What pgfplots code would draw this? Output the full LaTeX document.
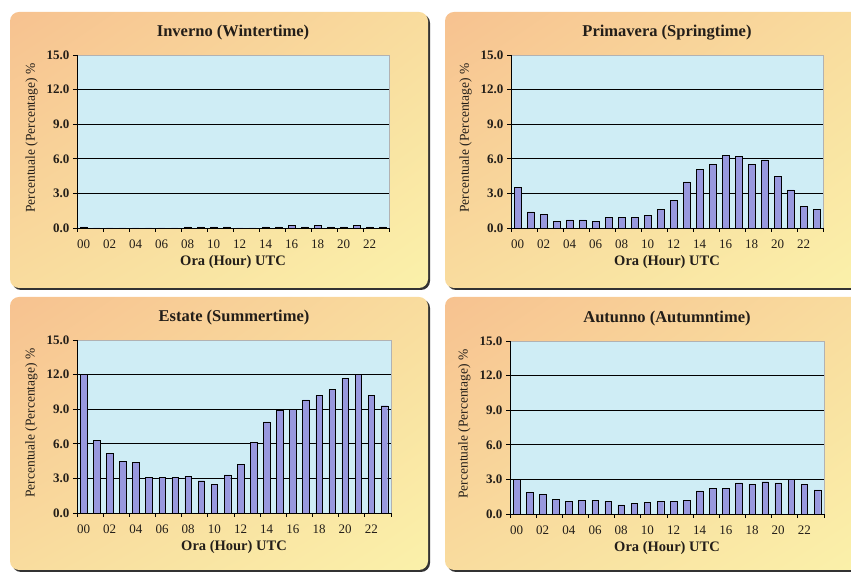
\documentclass[border=0pt]{standalone}
\usepackage{fontspec}
\setmainfont{Liberation Serif}
\usepackage{pgfplots}
\usepackage{pgfplotstable}
\pgfplotsset{compat=1.18}
\usetikzlibrary{shadings}

\definecolor{panelA}{RGB}{247,194,144}
\definecolor{panelB}{RGB}{249,220,158}
\definecolor{panelC}{RGB}{250,241,170}
\definecolor{plotbg}{RGB}{207,237,245}
\definecolor{barfill}{RGB}{152,152,222}
\definecolor{baredge}{RGB}{35,35,70}
\definecolor{txt}{RGB}{35,30,25}

% hourly share of events (%), per season
\pgfplotstableread{
h  win  spr  sum   aut
0  0.1  3.5  12.0  3.0
1  0.0  1.4  6.3   1.9
2  0.0  1.2  5.2   1.7
3  0.0  0.6  4.5   1.3
4  0.0  0.7  4.4   1.1
5  0.0  0.7  3.1   1.2
6  0.0  0.6  3.1   1.2
7  0.0  0.9  3.1   1.1
8  0.1  0.9  3.2   0.8
9  0.1  0.9  2.8   0.9
10 0.1  1.1  2.5   1.0
11 0.1  1.6  3.3   1.1
12 0.0  2.4  4.2   1.1
13 0.0  4.0  6.1   1.2
14 0.1  5.1  7.9   2.0
15 0.1  5.5  8.9   2.2
16 0.2  6.3  9.0   2.2
17 0.1  6.2  9.8   2.7
18 0.2  5.5  10.2  2.6
19 0.1  5.9  10.7  2.8
20 0.1  4.5  11.7  2.7
21 0.2  3.3  12.0  3.0
22 0.1  1.9  10.2  2.6
23 0.1  1.6  9.3   2.1
}\seasons

\pgfplotsset{
  season/.style={
    scale only axis, width=312pt, height=173pt,
    xmin=-0.5, xmax=23.5, ymin=0, ymax=15,
    axis background/.style={fill=plotbg},
    axis line style={draw=gray!60},
    xtick pos=bottom, ytick pos=left,
    ytick={0,3,...,15},
    yticklabel style={font=\fontsize{13}{13}\selectfont\bfseries, /pgf/number format/.cd, fixed, fixed zerofill, precision=1, assume math mode=true},
    ymajorgrids, major grid style={black, line width=0.7pt},
    ytick style={black, line width=0.7pt},
    tick align=outside, major tick length=4pt,
    xtick={0,2,...,22},
    xticklabels={00,02,04,06,08,10,12,14,16,18,20,22},
    xtick style={draw=none},
    xticklabel style={yshift=-4pt, font=\fontsize{13}{13}\selectfont},
    extra x ticks={-0.5,1.5,...,23.5},
    extra x tick labels={},
    extra x tick style={grid=none, xtick style={draw=black, line width=0.7pt}},
    title style={at={(axis description cs:0.5,1.145)}, anchor=center, yshift=-9pt, font=\fontsize{16.5}{17}\selectfont\bfseries},
    xlabel style={at={(axis description cs:0.5,-0.197)}, anchor=center, font=\fontsize{14.5}{15}\selectfont\bfseries},
    ylabel style={at={(axis description cs:-0.145,0.52)}, anchor=center, font=\fontsize{13.5}{14}\selectfont},
    every axis label/.append style={text=txt},
    every axis title/.append style={text=txt},
    tick label style={text=txt},
    xlabel={Ora (Hour) UTC},
    ylabel={Percentuale (Percentage) \%},
    ybar, bar width=0.5,
    cycle list={{fill=barfill, draw=baredge, line width=0.6pt}},
    after end axis/.code={
      \draw[black, line width=0.8pt] (rel axis cs:0,1) -- (rel axis cs:0,0) -- (rel axis cs:1,0);
    },
  },
}
\tikzset{panel/.style={rounded corners=9pt, upper left=panelA, upper right=panelB, lower left=panelB, lower right=panelC}}

\begin{document}
\begin{tikzpicture}
\useasboundingbox (0,0) rectangle (851pt,572pt);
\clip (0,0) rectangle (851pt,572pt);

% panel backgrounds with shadow
\foreach \x/\y/\w/\hh in {10/284/418/276, 445/284/420/276, 10/2/418/273, 445/2/420/273}{
  \fill[black!80, rounded corners=9pt] (\x pt+2pt,\y pt-2pt) rectangle ++(\w pt,\hh pt);
  \shade[panel] (\x pt,\y pt) rectangle ++(\w pt,\hh pt);
}

\begin{axis}[season, at={(77pt,344pt)}, anchor=south west, title={Inverno (Wintertime)}]
\addplot table[x=h, y=win] {\seasons};
\end{axis}

\begin{axis}[season, at={(511pt,344pt)}, anchor=south west, title={Primavera (Springtime)}]
\addplot table[x=h, y=spr] {\seasons};
\end{axis}

\begin{axis}[season, at={(77pt,59pt)}, anchor=south west, width=314pt, title={Estate (Summertime)}]
\addplot table[x=h, y=sum] {\seasons};
\end{axis}

\begin{axis}[season, at={(510pt,58pt)}, anchor=south west, width=314pt, title={Autunno (Autumntime)}]
\addplot table[x=h, y=aut] {\seasons};
\end{axis}
\end{tikzpicture}
\end{document}
